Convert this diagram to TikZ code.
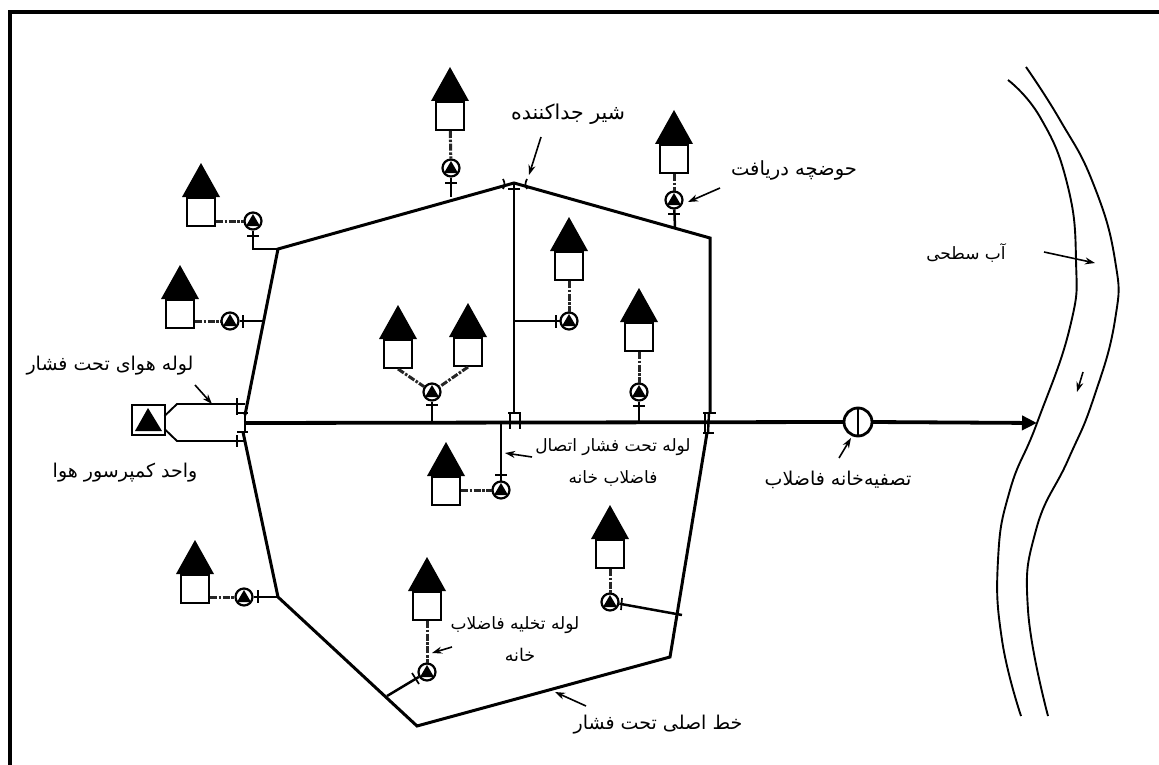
\documentclass[tikz,border=0pt]{standalone}
\usepackage{fontspec}
\usetikzlibrary{arrows.meta}
\TeXXeTstate=1
\newfontfamily\arabicfont[Script=Arabic]{DejaVu Sans}
\tikzset{
  bodybox/.style={draw,line width=2.6pt,fill=white,minimum width=28pt,minimum height=28pt,inner sep=0pt,outer sep=1pt},
  pumpring/.style={circle,draw,line width=2.2pt,fill=white,minimum size=17pt,inner sep=0pt,outer sep=1pt},
  sewer/.style={line width=3pt,black!85,dash pattern=on 7pt off 1.6pt on 2.5pt off 1.6pt},
  pipe/.style={line width=2.5pt,line join=miter},
  trunk/.style={line width=3pt,line join=miter},
  mainline/.style={line width=3.8pt},
  tick/.style={line width=1.7pt},
  callout/.style={line width=1.6pt,-{Stealth[length=10pt,width=7pt]}},
  river/.style={line width=1.9pt},
  lbl/.style={inner sep=0pt,font=\fontsize{#1}{#1}\arabicfont},
  lbl/.default=19
}
\newcommand\house[3]{%
  \fill (#2-19,#3+34) -- (#2,#3) -- (#2+19,#3+34) -- cycle;
  \node[bodybox] (#1) at (#2,#3+49) {};}
\newcommand\pumpat[3]{%
  \node[pumpring] (#1) at (#2,#3) {};
  \fill (#2,#3-7) -- (#2+7,#3+5) -- (#2-7,#3+5) -- cycle;}
\begin{document}
\begin{tikzpicture}[x=1pt,y=-1pt]
\useasboundingbox (0,0) rectangle (1159,765);
% frame
\draw[line width=4pt] (10,765) -- (10,12) -- (1159,12);

% trunk network
\coordinate (nw) at (278,249);
\coordinate (top) at (514,183);
\coordinate (ne) at (710,238);
\coordinate (se) at (670,657);
\coordinate (sb) at (417,726);
\coordinate (sw) at (278,597);
\coordinate (wu) at (245,415);
\coordinate (wl) at (243,432);
\coordinate (eu) at (710,413);
\coordinate (el) at (707,433);
\coordinate (cv) at (514,412);
\draw[trunk] (wu) -- (nw) -- (top) -- (ne) -- (eu);
\draw[trunk] (el) -- (se) -- (sb) -- (sw) -- (wl);
\draw[line width=2.8pt] (top) -- (cv);
% main line, treatment plant
\coordinate (mainstart) at (244,423);
\coordinate (riverin) at (1037,423);
\node[circle,draw,line width=2.8pt,fill=white,minimum size=28pt,inner sep=0pt,outer sep=0pt] (plant) at (858,422) {};
\draw[mainline] (mainstart) -- (plant.west);
\draw[mainline,-{Triangle[length=15pt,width=14pt]}] (plant.east) -- (riverin);
\draw[line width=2.4pt] (plant.north) -- (plant.south);

% compressor
\node[draw,line width=2pt,minimum width=33pt,minimum height=30pt,inner sep=0pt,outer sep=0pt] (comp) at (148,420) {};
\fill (148,408) -- (162,431) -- (135,431) -- cycle;
\coordinate (aU) at (245,404);
\coordinate (aL) at (245,441);
\draw[line width=1.9pt] (comp.east |- 0,416) -- (177,404) -- (aU);
\draw[line width=1.9pt] (comp.east |- 0,429) -- (177,441) -- (aL);
% valves on the west
\draw[tick] (237,398) -- (237,415);
\draw[tick] (237,435) -- (237,447);
\draw[line width=2.2pt] (237,413) -- (248,413);
\draw[line width=2.2pt] (237,432) -- (248,432);
\draw[line width=2.4pt] (245,413) -- (245,432);
% valves in the centre
\draw[line width=2.2pt] (508,413) -- (521,413);
\draw[tick] (510,413) -- (510,429);
\draw[tick] (520,413) -- (520,429);
% valves on the east
\draw[line width=2.2pt] (703,413) -- (716,413);
\draw[line width=2.2pt] (703,433) -- (714,433);
\draw[tick] (705,413) -- (705,433);
\draw[line width=2.4pt] (709,413) -- (708,433);
% valves at the top
\draw[tick] (508,189) -- (520,189);
\draw[tick] (503,179) .. controls (505,183) and (505,185) .. (503,189);
\draw[tick] (527,179) .. controls (525,183) and (525,185) .. (527,189);

% houses and pumps
\house{h1}{450}{67}    \pumpat{p1}{451}{168}
\house{h2}{674}{110}   \pumpat{p2}{674}{200}
\house{h3}{201}{163}   \pumpat{p3}{253}{221}
\house{h4}{180}{265}   \pumpat{p4}{230}{321}
\house{h5}{398}{305}
\house{h6}{468}{303}   \pumpat{p5}{432}{392}
\house{h7}{446}{442}   \pumpat{p7}{501}{490}
\house{h8}{569}{217}   \pumpat{p8}{569}{321}
\house{h9}{639}{288}   \pumpat{p9}{639}{392}
\house{h10}{610}{505}  \pumpat{p10}{610}{602}
\house{h11}{195}{540}  \pumpat{p11}{244}{597}
\house{h12}{427}{557}  \pumpat{p12}{427}{672}

\draw[sewer] (h1) -- (p1);
\draw[sewer] (h2) -- (p2);
\draw[sewer] (h3.east |- p3) -- (p3);
\draw[sewer] (h4.east |- p4) -- (p4);
\draw[sewer] (h5.south) -- (p5);
\draw[sewer] (h6.south) -- (p5);
\draw[sewer] (h7.east |- p7) -- (p7);
\draw[sewer] (h8) -- (p8);
\draw[sewer] (h9) -- (p9);
\draw[sewer] (h10) -- (p10);
\draw[sewer] (h11.east |- p11) -- (p11);
\draw[sewer] (h12) -- (p12);

% lateral pipes
\coordinate (j1) at (451,197);
\coordinate (j2) at (675,228);
\coordinate (j4) at (263,321);
\coordinate (j5) at (432,423);
\coordinate (j7) at (501,423);
\coordinate (j8) at (514,321);
\coordinate (j9) at (639,423);
\coordinate (j10) at (682,615);
\coordinate (j11) at (278,597);
\coordinate (j12) at (387,696);
\draw[pipe] (p1) -- (j1);
\draw[pipe] (p2) -- (j2);
\draw[pipe] (p3.south) -- (253,249) -- (nw);
\draw[pipe] (p4) -- (j4);
\draw[pipe] (p5) -- (j5);
\draw[pipe] (p7) -- (j7);
\draw[pipe] (p8) -- (j8);
\draw[pipe] (p9) -- (j9);
\draw[pipe] (p10) -- (j10);
\draw[pipe] (p11) -- (j11);
\draw[pipe] (p12) -- (j12);
% tick marks on the laterals
\draw[tick] (445,183) -- (457,183);
\draw[tick] (668,214) -- (680,214);
\draw[tick] (247,236) -- (259,236);
\draw[tick] (243,315) -- (243,328);
\draw[tick] (426,405) -- (438,405);
\draw[tick] (495,475) -- (507,475);
\draw[tick] (556,315) -- (556,328);
\draw[tick] (633,406) -- (645,406);
\draw[tick] (622,598) -- (621,610);
\draw[tick] (258,590) -- (258,603);
\draw[tick] (412,673) -- (419,684);

% river
\draw[river] plot[smooth,tension=.8] coordinates {(1008,80) (1040,117) (1067,183) (1076,260) (1070,327) (1037,423) (1010,490) (998,560) (1002,640) (1021,716)};
\draw[river] plot[smooth,tension=.8] coordinates {(1026,67) (1060,120) (1093,183) (1115,260) (1115,320) (1093,400) (1068,460) (1036,530) (1028,610) (1048,716)};
\coordinate (flowA) at (1083,372);
\coordinate (flowB) at (1077,392);
\draw[callout] (flowA) -- (flowB);

% labels
\node[lbl=20.5] (tValve) at (568,114) {\beginR شیر جداکننده\endR};
\node[lbl=19.5] (tBasin) at (794,170) {\beginR حوضچه دریافت\endR};
\node[lbl=17] (tWater) at (966,253) {\beginR آب سطحی\endR};
\node[lbl=19] (tAir) at (110,366) {\beginR لوله هوای تحت فشار\endR};
\node[lbl=19] (tComp) at (125,473) {\beginR واحد کمپرسور هوا\endR};
\node[lbl=17] (tConnA) at (613,447) {\beginR لوله تحت فشار اتصال\endR};
\node[lbl=17] (tConnB) at (613,478) {\beginR فاضلاب خانه\endR};
\node[lbl=19] (tPlant) at (838,480) {\beginR تصفیه‌خانه فاضلاب\endR};
\node[lbl=17] (tDrainA) at (515,625) {\beginR لوله تخلیه فاضلاب\endR};
\node[lbl=17.5] (tDrainB) at (520,655) {\beginR خانه\endR};
\node[lbl=19] (tMain) at (658,725) {\beginR خط اصلی تحت فشار\endR};

% callouts
\coordinate (c1a) at (541,137); \coordinate (c1b) at (529,175);
\coordinate (c2a) at (720,188); \coordinate (c2b) at (688,202);
\coordinate (c3a) at (1044,252); \coordinate (c3b) at (1095,263);
\coordinate (c4a) at (195,385); \coordinate (c4b) at (212,404);
\coordinate (c5a) at (532,457); \coordinate (c5b) at (505,453);
\coordinate (c6a) at (839,458); \coordinate (c6b) at (851,438);
\coordinate (c7a) at (452,647); \coordinate (c7b) at (432,653);
\coordinate (c8a) at (586,706); \coordinate (c8b) at (555,692);
\draw[callout] (c1a) -- (c1b);
\draw[callout] (c2a) -- (c2b);
\draw[callout] (c3a) -- (c3b);
\draw[callout] (c4a) -- (c4b);
\draw[callout] (c5a) -- (c5b);
\draw[callout] (c6a) -- (c6b);
\draw[callout] (c7a) -- (c7b);
\draw[callout] (c8a) -- (c8b);
\end{tikzpicture}
\end{document}
